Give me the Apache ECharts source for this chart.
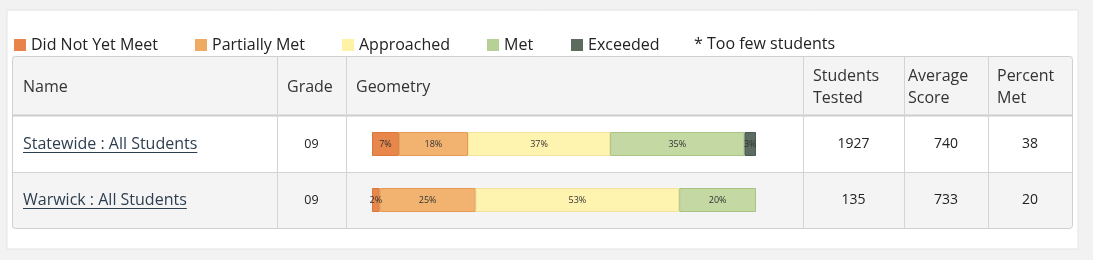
<!DOCTYPE html>
<html><head><meta charset="utf-8">
<script src="https://cdn.jsdelivr.net/npm/echarts@6/dist/echarts.min.js"></script>
<style>html,body{margin:0;padding:0;background:#f2f2f2;}#c{width:1093px;height:260px;}</style>
</head><body><div id="c"></div>
<script>
const names = ['Statewide : All Students', 'Warwick : All Students'];
const grades = ['09', '09'];
const subject = 'Geometry';
const levels = ['Did Not Yet Meet', 'Partially Met', 'Approached', 'Met', 'Exceeded'];
const didNotYetMeet = [7, 2];
const partiallyMet = [18, 25];
const approached = [37, 53];
const met = [35, 20];
const exceeded = [3, 0];
const studentsTested = [1927, 135];
const averageScore = [740, 733];
const percentMet = [38, 20];
const headers = ['Name', 'Grade', subject, 'Students\nTested', 'Average\nScore', 'Percent\nMet'];
const footnote = '* Too few students';

const levelData = [didNotYetMeet, partiallyMet, approached, met, exceeded];
const fills = ['#e8874c', '#f1b36f', '#fff3b0', '#c3d8a2', '#5d6c61'];
const borders = ['#d9773c', '#e49c55', '#f3e29a', '#a9c486', '#4d5a50'];
const legendFills = ['#e8834a', '#f0ab62', '#fff1a6', '#b7d096', '#5b6b5e'];
const legendLeft = [14, 195, 342, 487, 571];

const FONT = '"Open Sans", "DejaVu Sans", sans-serif';
const chart = echarts.init(document.getElementById('c'));

// layout
const T = {x: 12, y: 56, w: 1060, h: 172, headerH: 60, rowH: 56};
const colX = [12, 277, 346, 803, 904, 988, 1072];
const g = [];
g.push({type: 'rect', shape: {x: 7, y: 10, width: 1071, height: 239}, style: {fill: '#fff', stroke: '#e4e4e4', lineWidth: 1}, z: -10});
g.push({type: 'rect', shape: {x: T.x, y: T.y, width: T.w, height: T.h, r: 3}, style: {fill: '#fff'}, z: -9});
g.push({type: 'rect', shape: {x: T.x, y: T.y, width: T.w, height: T.headerH}, style: {fill: '#f4f4f4'}, z: -8});
g.push({type: 'rect', shape: {x: T.x, y: T.y + T.headerH + T.rowH, width: T.w, height: T.rowH}, style: {fill: '#f4f4f4'}, z: -8});
g.push({type: 'line', shape: {x1: T.x, y1: T.y + T.headerH - 0.5, x2: T.x + T.w, y2: T.y + T.headerH - 0.5}, style: {stroke: '#cdcdcd', lineWidth: 2}, z: -7});
g.push({type: 'line', shape: {x1: T.x, y1: T.y + T.headerH + T.rowH + 0.5, x2: T.x + T.w, y2: T.y + T.headerH + T.rowH + 0.5}, style: {stroke: '#d4d4d4', lineWidth: 1}, z: -7});
for (let i = 1; i < colX.length - 1; i++) {
  g.push({type: 'line', shape: {x1: colX[i] + 0.5, y1: T.y, x2: colX[i] + 0.5, y2: T.y + T.h}, style: {stroke: '#d4d4d4', lineWidth: 1}, z: -7});
}
g.push({type: 'rect', shape: {x: T.x + 0.5, y: T.y + 0.5, width: T.w, height: T.h, r: 3}, style: {fill: null, stroke: '#cfcfcf', lineWidth: 1}, z: -6});

// header texts
const hx = [23, 287, 356, 813, 908, 997];
headers.forEach((h, i) => {
  g.push({type: 'text', x: hx[i], y: 87, style: {text: h, font: '16px ' + FONT, fill: '#333', verticalAlign: 'middle', lineHeight: 22}});
});
// rows
const ctx = document.createElement('canvas').getContext('2d');
ctx.font = '16px ' + FONT;
names.forEach((n, r) => {
  const cy = T.y + T.headerH + T.rowH * r + T.rowH / 2;
  g.push({type: 'text', x: 23, y: cy, style: {text: n, font: '16px ' + FONT, fill: '#2d3e50', verticalAlign: 'middle'}});
  const w = ctx.measureText(n).width;
  g.push({type: 'line', shape: {x1: 23, y1: cy + 8.5, x2: 23 + w, y2: cy + 8.5}, style: {stroke: '#2d3e50', lineWidth: 1}});
  g.push({type: 'text', x: (colX[1] + colX[2]) / 2, y: cy, style: {text: grades[r], font: '12.5px ' + FONT, fill: '#222', align: 'center', verticalAlign: 'middle'}});
  [studentsTested, averageScore, percentMet].forEach((arr, k) => {
    g.push({type: 'text', x: (colX[3 + k] + colX[4 + k]) / 2, y: cy, style: {text: String(arr[r]), font: '14px ' + FONT, fill: '#222', align: 'center', verticalAlign: 'middle'}});
  });
});
g.push({type: 'text', x: 694, y: 44, style: {text: footnote, font: '16px ' + FONT, fill: '#222', verticalAlign: 'middle'}});

const legends = levels.map((l, i) => ({
  data: [l], left: legendLeft[i], top: 37, padding: 0, icon: 'rect', itemWidth: 12, itemHeight: 12,
  itemStyle: {color: legendFills[i], borderWidth: 0}, selectedMode: false,
  textStyle: {fontFamily: FONT, fontSize: 16, color: '#222', lineHeight: 12}
}));

const series = levels.map((l, i) => ({
  name: l, type: 'bar', stack: 'total', barWidth: 24,
  data: levelData[i].map(v => v === 0 ? '-' : v),
  itemStyle: {color: fills[i], borderColor: borders[i], borderWidth: 1},
  label: {show: true, position: 'inside', fontSize: 9, fontFamily: FONT, color: '#333',
    formatter: p => p.value > 0 ? p.value + '%' : ''},
  emphasis: {disabled: true}
}));

chart.setOption({
  backgroundColor: '#f2f2f2',
  animation: false,
  legend: legends,
  grid: {left: 372, width: 384, top: T.y + T.headerH, height: T.rowH * 2, containLabel: false},
  xAxis: {type: 'value', min: 0, max: 100, show: false},
  yAxis: {type: 'category', data: names, inverse: true, show: false},
  graphic: {elements: g},
  series: series
});
</script></body></html>
